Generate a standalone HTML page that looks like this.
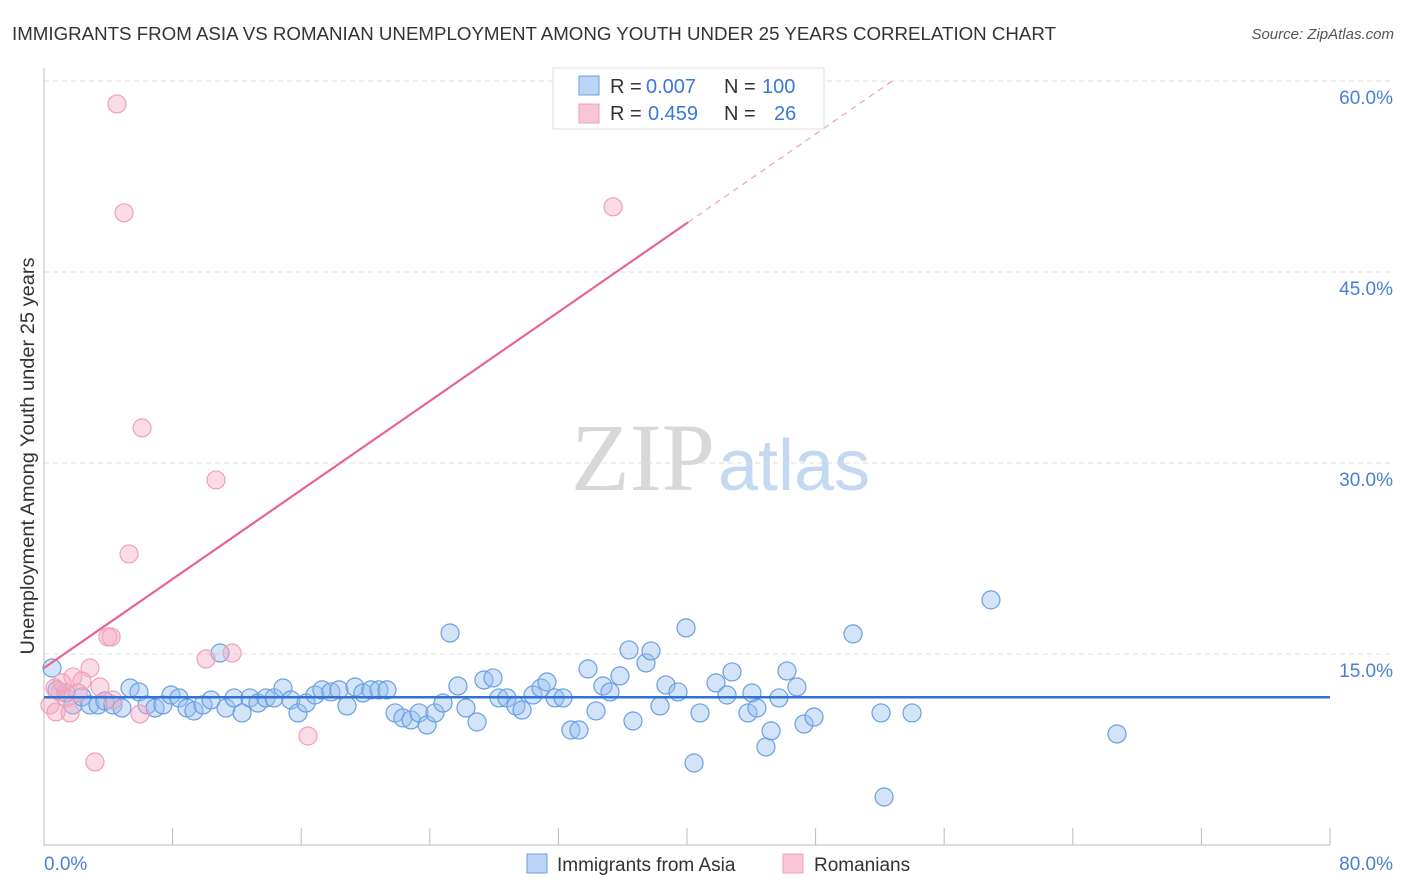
<!DOCTYPE html>
<html><head><meta charset="utf-8"><style>
body{margin:0;background:#fff;font-family:"Liberation Sans",sans-serif}
</style></head><body>
<svg id="chart" width="1406" height="892" style="display:block">
<text x="12" y="40" font-size="18" fill="#333" textLength="1044" lengthAdjust="spacingAndGlyphs">IMMIGRANTS FROM ASIA VS ROMANIAN UNEMPLOYMENT AMONG YOUTH UNDER 25 YEARS CORRELATION CHART</text>
<text x="1394" y="39" font-size="15" fill="#555" font-style="italic" text-anchor="end">Source: ZipAtlas.com</text>
<text x="715" y="490" font-size="96" fill="#d8d8d8" text-anchor="end" font-family="Liberation Serif,serif">ZIP</text>
<text x="718" y="490" font-size="72" fill="#c5d8f2">atlas</text>
<text transform="translate(34,456) rotate(-90)" font-size="19" fill="#333" text-anchor="middle" textLength="397" lengthAdjust="spacingAndGlyphs">Unemployment Among Youth under 25 years</text>
<g id="grid"></g><g id="axes"></g><g id="pts"></g><g id="trend"></g>
<g>
<rect x="553" y="68" width="271" height="61" fill="#fff" stroke="#ddd"/>
<rect x="579" y="76" width="20" height="19" fill="#bcd4f5" stroke="#6a9fe0"/>
<rect x="579" y="104" width="20" height="19" fill="#f9c6d6" stroke="#f0a0b8"/>
<text x="610" y="93" font-size="20" fill="#333">R =</text>
<text x="646" y="93" font-size="20" fill="#3a78d8">0.007</text>
<text x="724" y="93" font-size="20" fill="#333">N =</text>
<text x="762" y="93" font-size="20" fill="#3a78d8">100</text>
<text x="610" y="120" font-size="20" fill="#333">R =</text>
<text x="648" y="120" font-size="20" fill="#3a78d8">0.459</text>
<text x="724" y="120" font-size="20" fill="#333">N =</text>
<text x="774" y="120" font-size="20" fill="#3a78d8">26</text>
</g>
<g>
<rect x="527" y="854" width="20" height="19" fill="#bcd4f5" stroke="#6a9fe0"/>
<text x="557" y="871" font-size="19" fill="#333">Immigrants from Asia</text>
<rect x="783" y="854" width="20" height="19" fill="#f9c6d6" stroke="#f0a0b8"/>
<text x="814" y="871" font-size="19" fill="#333">Romanians</text>
</g>
</svg>
<script>
const yTicks=[15,30,45,60];
const xTickLabels=["0.0%","80.0%"];
const asiaX=[0.50,0.81,1.37,1.80,2.36,2.86,3.36,3.79,4.29,4.85,5.35,5.91,6.41,6.91,7.40,7.90,8.40,8.90,9.33,9.89,10.39,10.95,11.32,11.82,12.32,12.81,13.31,13.81,14.31,14.87,15.36,15.80,16.30,16.86,17.29,17.85,18.35,18.85,19.35,19.84,20.34,20.84,21.34,21.84,22.33,22.83,23.33,23.83,24.32,24.82,25.26,25.75,26.25,26.94,27.37,27.93,28.30,28.80,29.36,29.74,30.42,30.92,31.29,31.79,32.29,32.78,33.28,33.84,34.34,34.77,35.21,35.83,36.39,36.64,37.45,37.76,38.32,38.69,39.44,39.94,40.44,40.81,41.80,42.49,42.80,43.79,44.04,44.35,44.91,45.23,45.72,46.22,46.84,47.28,47.90,50.33,52.07,52.26,54.00,58.91,66.75];
const asiaY=[13.90,12.18,11.94,11.00,11.63,11.00,11.00,11.31,11.00,10.76,12.33,12.02,11.00,10.76,11.00,11.78,11.55,10.76,10.53,11.00,11.39,15.08,10.76,11.55,10.37,11.55,11.15,11.55,11.55,12.33,11.39,10.37,11.15,11.78,12.18,12.02,12.18,10.92,12.41,11.94,12.18,12.18,12.18,10.37,9.98,9.82,10.37,9.43,10.37,11.15,16.65,12.49,10.76,9.66,12.96,13.12,11.55,11.55,10.92,10.60,11.78,12.33,12.80,11.55,11.55,9.03,9.03,13.83,10.53,12.49,12.02,13.28,15.32,9.74,14.30,15.24,10.92,12.57,12.02,17.05,6.44,10.37,12.73,11.78,13.59,10.37,11.94,10.76,7.70,8.96,11.55,13.67,12.41,9.50,10.05,16.58,10.37,3.77,10.37,19.25,8.72];
const romX=[4.54,4.98,6.10,10.70,5.29,35.40,3.98,4.17,11.70,10.08,2.86,1.80,2.36,3.48,4.29,1.00,1.37,0.68,0.37,0.75,1.62,2.12,3.17,5.97,16.42,1.12];
const romY=[58.2,49.65,32.76,28.67,22.86,50.12,16.34,16.34,15.08,14.61,13.90,13.20,12.88,12.41,11.39,12.02,11.55,12.33,11.00,10.45,10.37,11.94,6.52,10.29,8.56,12.73];
const asiaTrend=[11.6,11.6];
const romTrend=[13.9,48.9];
const romTrendX=[0,40.06];
const romSlope=(romTrend[1]-romTrend[0])/(romTrendX[1]-romTrendX[0]);
const NS="http://www.w3.org/2000/svg";
const X=v=>44+v/80*1286, Y=v=>845-v*12.733;
function mk(tag,attrs,parent){const e=document.createElementNS(NS,tag);for(const k in attrs)e.setAttribute(k,attrs[k]);document.getElementById(parent).appendChild(e);return e;}
yTicks.forEach(t=>{
 const l=mk('line',{x1:44,x2:1394,y1:Y(t),y2:Y(t),stroke:'#ddd','stroke-dasharray':'5,4'},'grid');
 
 
 const tx=mk('text',{x:1393,y:Y(t)+23,'font-size':19,fill:'#4a7fd6','text-anchor':'end'},'grid');tx.textContent=t.toFixed(1)+'%';
 
 
});
const xa=mk('line',{x1:44,x2:1330,y1:845,y2:845,stroke:'#bbb'},'axes');


const ya=mk('line',{x1:44,x2:44,y1:68,y2:845,stroke:'#bbb'},'axes');


for(let i=0;i<=10;i++){const t=mk('line',{x1:X(i*8),x2:X(i*8),y1:828,y2:845,stroke:'#bbb'},'axes');
 
 }
const xl0=mk('text',{x:44,y:870,'font-size':19,fill:'#4a7fd6'},'axes');xl0.textContent=xTickLabels[0];


const xl1=mk('text',{x:1393,y:870,'font-size':19,fill:'#4a7fd6','text-anchor':'end'},'axes');xl1.textContent=xTickLabels[1];


asiaX.forEach((v,i)=>{const c=mk('circle',{cx:X(v),cy:Y(asiaY[i]),r:9,fill:'rgba(150,190,240,0.42)',stroke:'#6a9fe0','stroke-width':1.2},'pts');
 
 });
romX.forEach((v,i)=>{const c=mk('circle',{cx:X(v),cy:Y(romY[i]),r:9,fill:'rgba(245,170,195,0.42)',stroke:'#f0a0b8','stroke-width':1.2},'pts');
 
 });
const bt=mk('line',{x1:X(0),x2:X(80),y1:Y(asiaTrend[0]),y2:Y(asiaTrend[1]),stroke:'#2f72d4','stroke-width':2.5},'trend');


const pt=mk('line',{x1:X(romTrendX[0]),x2:X(romTrendX[1]),y1:Y(romTrend[0]),y2:Y(romTrend[1]),stroke:'#e8638e','stroke-width':2.2},'trend');


const xEnd=romTrendX[0]+(60-romTrend[0])/romSlope;
const pd=mk('line',{x1:X(romTrendX[1]),x2:X(xEnd),y1:Y(romTrend[1]),y2:Y(60),stroke:'#f0a0b8','stroke-width':1.2,'stroke-dasharray':'6,5'},'trend');


</script>
</body></html>
